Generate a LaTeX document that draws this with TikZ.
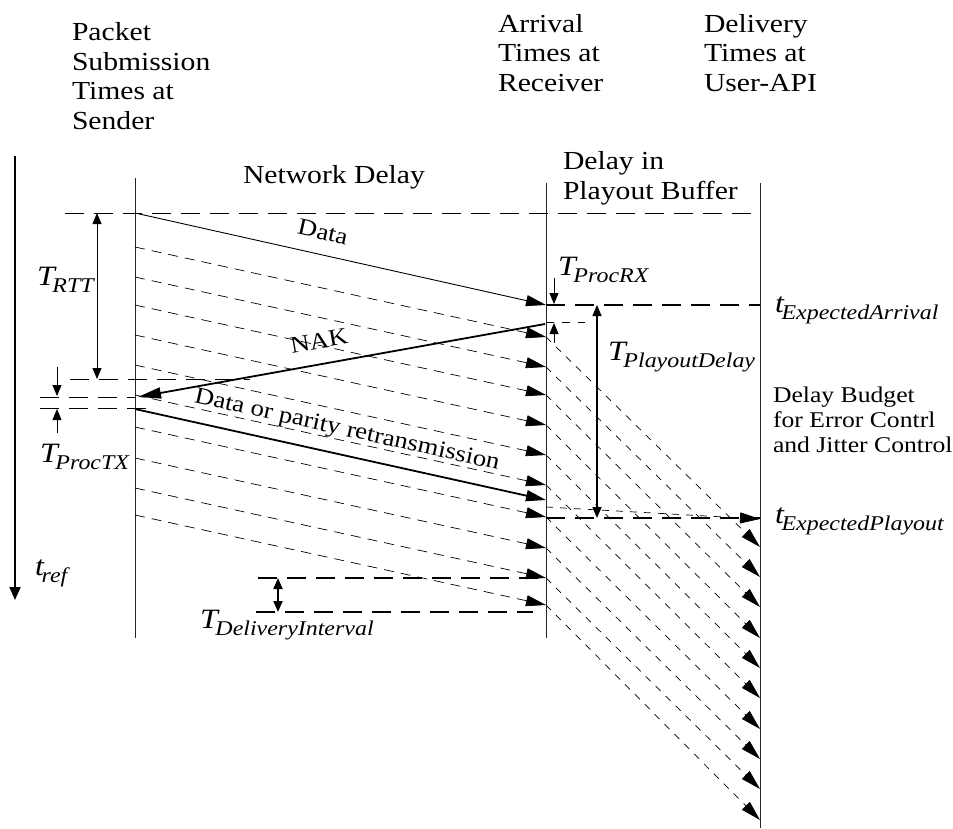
\documentclass[tikz,border=0pt]{standalone}
\usepackage{fontspec}
\setmainfont{Liberation Serif}
\usepackage{graphicx}
\usetikzlibrary{arrows.meta}
\newcommand{\sx}[1]{\scalebox{1.14}[1]{#1}}
\newcommand{\tlab}[2]{\sx{\fontsize{28}{28}\selectfont\itshape #1\kern-2pt\raisebox{-7pt}{\fontsize{21}{21}\selectfont #2}}}
\begin{document}
\begin{tikzpicture}[x=1pt,y=-1pt,
  every node/.style={inner sep=0pt,outer sep=0pt},
  hdr/.style={font=\fontsize{26}{29.5}\selectfont, align=left, anchor=base west},
  bud/.style={font=\fontsize{22.5}{25}\selectfont, align=left, anchor=base west},
  lab/.style={anchor=base west},
  rot/.style={font=\fontsize{23.5}{26}\selectfont},
  axisln/.style={line width=0.8pt, draw=black!85},
  pkt/.style={line width=0.7pt, dash pattern=on 10pt off 7pt},
  buf/.style={line width=0.7pt, dash pattern=on 7pt off 7pt},
  refln/.style={line width=0.8pt, dash pattern=on 19pt off 10pt},
  refthick/.style={line width=2pt, dash pattern=on 19pt off 10pt},
  bigtip/.style={-{Triangle[length=20pt,width=11pt]}},
  dbl/.style={{Triangle[length=11pt,width=9pt]}-{Triangle[length=11pt,width=9pt]}},
  sgl/.style={-{Triangle[length=11pt,width=9pt]}}
]
\useasboundingbox (0,0) rectangle (953,828);

% headers (anchor = baseline of the last line)
\node[hdr] (hsend) at (72,129) {\sx{Packet}\\\sx{Submission}\\\sx{Times at}\\\sx{Sender}};
\node[hdr] (hrecv) at (498,91) {\sx{Arrival}\\\sx{Times at}\\\sx{Receiver}};
\node[hdr] (huser) at (704,91) {\sx{Delivery}\\\sx{Times at}\\\sx{User-API}};
\node[hdr] (hnet) at (243,183) {\sx{Network Delay}};
\node[hdr] (hbuf) at (563,199) {\sx{Delay in}\\\sx{Playout Buffer}};

% vertical lines
\coordinate (tTop) at (15,156);  \coordinate (tBot) at (15,600);
\coordinate (sTop) at (135,178); \coordinate (sBot) at (135,638);
\coordinate (rTop) at (546,183); \coordinate (rBot) at (546,638);
\coordinate (uTop) at (760,183); \coordinate (uBot) at (760,828);
\draw[line width=2pt, -{Triangle[length=13pt,width=11pt]}] (tTop) -- (tBot);
\draw[axisln] (sTop) -- (sBot);
\draw[axisln] (rTop) -- (rBot);
\draw[axisln] (uTop) -- (uBot);

% reference lines
\coordinate (topL) at (65,213); \coordinate (topR) at (760,213);
\draw[refln] (topL) -- (topR);
\coordinate (rttL) at (70,379); \coordinate (rttR) at (250,379);
\draw[refln] (rttL) -- (rttR);
\coordinate (ptxAL) at (40,397); \coordinate (ptxAR) at (135,397);
\coordinate (ptxBL) at (40,408); \coordinate (ptxBR) at (153,408);
\draw[refln] (ptxAL) -- (ptxAR);
\draw[refln] (ptxBL) -- (ptxBR);

% RTT and ProcTX arrows
\coordinate (rttA) at (97,213); \coordinate (rttB) at (97,379);
\draw[line width=0.8pt, dbl] (rttA) -- (rttB);
\coordinate (pt1) at (57,367); \coordinate (pt2) at (57,396);
\coordinate (pt3) at (57,433); \coordinate (pt4) at (57,409);
\draw[line width=0.8pt, sgl] (pt1) -- (pt2);
\draw[line width=0.8pt, sgl] (pt3) -- (pt4);

% packets sender -> receiver
\foreach \s [count=\i] in {247,277,305,335,365,395,427,458,488,515} {
  \coordinate (s\i) at (135,\s);
  \coordinate (r\i) at (546,\s+90);
}
\foreach \i in {1,...,10} { \draw[pkt, bigtip] (s\i) -- (r\i); }

% receiver -> user
\foreach \u [count=\i] in {547,577,607,638,668,698,729,759,789,820} {
  \coordinate (u\i) at (760,\u);
}
\foreach \i in {1,...,10} { \draw[buf, bigtip] (r\i) -- (u\i); }

% data, NAK, retransmission
\coordinate (d0) at (135,213); \coordinate (d1) at (546,305);
\draw[line width=0.9pt, bigtip] (d0) -- (d1);
\coordinate (n0) at (545,324); \coordinate (n1) at (138,397);
\draw[line width=1.8pt, -{Triangle[length=23pt,width=11pt]}] (n0) -- (n1);
\coordinate (x0) at (135,409); \coordinate (x1) at (546,500);
\draw[line width=1.8pt, bigtip] (x0) -- (x1);
\coordinate (xp0) at (546,507); \coordinate (xp1) at (760,519);
\draw[buf, bigtip] (xp0) -- (xp1);

% receiver side reference lines
\coordinate (eaL) at (546,305); \coordinate (eaR) at (760,305);
\draw[refthick] (eaL) -- (eaR);
\coordinate (prL) at (546,322); \coordinate (prR) at (585,322);
\draw[line width=0.7pt, dash pattern=on 8pt off 8pt] (prL) -- (prR);
\coordinate (epL) at (546,518); \coordinate (epR) at (760,518);
\draw[refthick] (epL) -- (epR);
\coordinate (prx1) at (554,278); \coordinate (prx2) at (554,304);
\coordinate (prx3) at (554,343); \coordinate (prx4) at (554,323);
\draw[line width=0.8pt, sgl] (prx1) -- (prx2);
\draw[line width=0.8pt, sgl] (prx3) -- (prx4);
\coordinate (pdA) at (597,305); \coordinate (pdB) at (597,518);
\draw[line width=1.5pt, dbl] (pdA) -- (pdB);

% delivery interval
\coordinate (di1L) at (258,578); \coordinate (di1R) at (538,578);
\coordinate (di2L) at (256,612); \coordinate (di2R) at (533,612);
\draw[refthick] (di1L) -- (di1R);
\draw[refthick] (di2L) -- (di2R);
\coordinate (diA) at (278,578); \coordinate (diB) at (278,612);
\draw[line width=2pt, dbl] (diA) -- (diB);

% rotated labels
\node[rot, rotate=-12.6] (ldata) at (323,232) {\sx{Data}};
\node[rot, rotate=10] (lnak) at (319,341) {\sx{NAK}};
\node[rot, rotate=-12.5] (lret) at (347,431) {\sx{Data or parity  retransmission}};

% subscripted labels
\node[lab] (lrtt) at (37,285) {\tlab{T}{RTT}};
\node[lab] (lptx) at (40,462) {\tlab{T}{ProcTX}};
\node[lab] (lref) at (35,575) {\tlab{t}{ref}};
\node[lab] (lprx) at (558,275) {\tlab{T}{ProcRX}};
\node[lab] (lea) at (775,312) {\tlab{t}{ExpectedArrival}};
\node[lab] (lpd) at (608,360) {\tlab{T}{PlayoutDelay}};
\node[lab] (lep) at (775,523) {\tlab{t}{ExpectedPlayout}};
\node[lab] (ldi) at (200,628) {\tlab{T}{DeliveryInterval}};
\node[bud] (lbud) at (773,452) {\sx{Delay Budget}\\\sx{for Error Contrl}\\\sx{and Jitter Control}};
\end{tikzpicture}
\end{document}
